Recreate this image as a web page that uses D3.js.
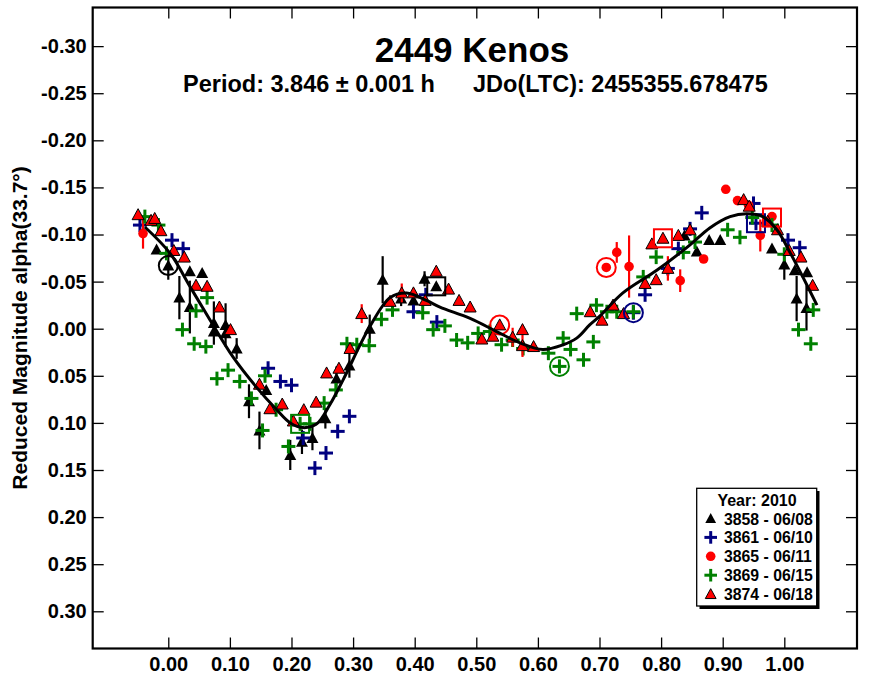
<!DOCTYPE html>
<html><head><meta charset="utf-8">
<script src="https://cdn.jsdelivr.net/npm/d3@7"></script>
<style>
html,body{margin:0;padding:0;background:#fff;}
svg{display:block;font-family:"Liberation Sans",Arial,sans-serif;}
</style></head>
<body>
<svg id="chart" width="871" height="679"></svg>
<script>
// ---------------- DATA ----------------
const titleText = "2449 Kenos";
const periodText = "Period: 3.846 \u00B1 0.001 h";
const epochText = "JDo(LTC): 2455355.678475";
const yAxisTitle = "Reduced Magnitude alpha(33.7\u00B0)";
const xTicks = [0.0,0.1,0.2,0.3,0.4,0.5,0.6,0.7,0.8,0.9,1.0];
const yTicks = [-0.30,-0.25,-0.20,-0.15,-0.10,-0.05,0.00,0.05,0.10,0.15,0.20,0.25,0.30];
const legendTitle = "Year: 2010";
const sessionLabels = ["3858 - 06/08","3861 - 06/10","3865 - 06/11","3869 - 06/15","3874 - 06/18"];

// [phase, reduced mag, error]
const s3858 = [
 [-0.019,-0.084,0],[0.000,-0.067,0.015],[0.018,-0.033,0.023],[0.035,-0.061,0],[0.055,-0.059,0],
 [0.035,-0.023,0.028],[0.074,-0.006,0.023],[0.093,-0.004,0.023],[0.074,0.003,0],[0.093,0.005,0],
 [0.111,0.021,0.011],[0.131,0.077,0.018],[0.148,0.108,0.020],[0.159,0.065,0],[0.198,0.134,0.016],
 [0.217,0.120,0.013],[0.234,0.116,0.013],[0.255,0.095,0.011],[0.273,0.053,0.013],[0.294,0.039,0.013],
 [0.327,0.000,0.015],[0.348,-0.052,0.025],[0.378,-0.032,0.008],[0.398,-0.030,0.006],[0.416,-0.053,0.008],
 [0.435,-0.045,0],[0.838,-0.099,0],[0.858,-0.082,0],[0.878,-0.094,0],[0.896,-0.094,0],
 [0.980,-0.085,0],[1.000,-0.068,0.016],[1.017,-0.062,0],[1.037,-0.060,0],[1.020,-0.032,0.024],[1.036,-0.022,0.024]
];
const s3861 = [
 [-0.046,-0.110,0],[0.006,-0.094,0],[0.024,-0.085,0],[0.162,0.042,0],[0.182,0.056,0],[0.200,0.060,0],
 [0.219,0.116,0],[0.238,0.148,0],[0.256,0.132,0],[0.275,0.109,0],[0.294,0.093,0],[0.398,-0.018,0],
 [0.418,-0.036,0],[0.436,-0.007,0],[0.755,-0.017,0],[0.774,-0.036,0],[0.811,-0.064,0],[0.828,-0.085,0],
 [0.847,-0.106,0],[0.866,-0.123,0],[0.950,-0.133,0],[0.954,-0.112,0],[1.006,-0.094,0],[1.025,-0.086,0]
];
const s3865 = [
 [-0.041,-0.101,0.016],[0.711,-0.065,0.004],[0.728,-0.081,0.011],[0.748,-0.066,0.033],[0.831,-0.051,0.012],
 [0.869,-0.074,0.004],[0.905,-0.148,0],[0.924,-0.136,0],[0.942,-0.131,0],[0.961,-0.099,0.017],[0.980,-0.119,0]
];
const s3869 = [
 [-0.038,-0.119,0],[-0.016,-0.110,0],[-0.003,-0.080,0],[0.023,0.001,0],[0.045,-0.019,0],[0.063,-0.033,0],
 [0.042,0.016,0],[0.061,0.019,0],[0.079,0.053,0],[0.097,0.044,0],[0.116,0.056,0],[0.135,0.074,0],
 [0.153,0.108,0],[0.157,0.050,0],[0.175,0.086,0],[0.195,0.125,0],[0.214,0.101,0],[0.230,0.101,0],
 [0.253,0.079,0],[0.272,0.065,0],[0.290,0.016,0],[0.306,0.017,0],[0.326,0.018,0],[0.346,-0.010,0],
 [0.364,-0.020,0],[0.413,-0.017,0],[0.430,0.001,0],[0.449,-0.003,0],[0.468,0.012,0],[0.486,0.015,0],
 [0.503,0.005,0],[0.522,0.003,0],[0.541,0.017,0],[0.559,0.012,0],[0.576,0.021,0],[0.617,0.026,0],
 [0.635,0.040,0],[0.641,0.010,0],[0.653,0.022,0],[0.663,-0.016,0],[0.674,0.033,0],[0.690,0.014,0],
 [0.695,-0.025,0],[0.712,-0.018,0],[0.728,-0.018,0],[0.755,-0.018,0],[0.771,-0.055,0],[0.792,-0.076,0],
 [0.836,-0.081,0],[0.855,-0.092,0],[0.908,-0.105,0],[0.928,-0.097,0],[0.948,-0.118,0],[0.980,-0.110,0],
 [1.000,-0.079,0],[1.023,0.001,0],[1.043,0.016,0],[1.047,-0.020,0]
];
const s3874 = [
 [-0.049,-0.121,0],[-0.028,-0.115,0],[-0.022,-0.117,0],[-0.012,-0.104,0],[0.009,-0.083,0],[0.026,-0.076,0],
 [0.045,-0.046,0],[0.063,-0.045,0],[0.083,-0.023,0],[0.101,0.001,0],[0.148,0.059,0],[0.165,0.085,0],
 [0.185,0.080,0],[0.203,0.098,0],[0.220,0.086,0],[0.240,0.078,0],[0.257,0.047,0],[0.277,0.042,0],
 [0.295,0.021,0],[0.314,-0.016,0.010],[0.360,-0.029,0],[0.379,-0.038,0.010],[0.398,-0.038,0],[0.417,-0.030,0],
 [0.435,-0.061,0],[0.455,-0.042,0],[0.472,-0.030,0],[0.490,-0.023,0],[0.509,0.011,0],[0.527,0.008,0],
 [0.538,-0.004,0],[0.559,0.009,0.010],[0.575,0.001,0],[0.575,0.018,0.012],[0.593,0.019,0],[0.685,-0.018,0],
 [0.704,-0.009,0],[0.722,-0.025,0],[0.739,-0.016,0],[0.774,-0.048,0],[0.792,-0.052,0],[0.785,-0.090,0],
 [0.803,-0.096,0],[0.811,-0.064,0.013],[0.828,-0.099,0],[0.847,-0.105,0],[0.934,-0.137,0],[0.943,-0.130,0],
 [0.973,-0.114,0],[0.989,-0.105,0],[1.008,-0.083,0],[1.027,-0.076,0],[1.046,-0.046,0]
];
// highlighted points: [phase, mag, session index, shape]
const highlights = [
 [0.000,-0.067,0,"circle"],[0.435,-0.045,0,"square"],
 [0.755,-0.017,1,"circle"],[0.954,-0.112,1,"square"],
 [0.711,-0.065,2,"circle"],[0.980,-0.118,2,"square"],
 [0.635,0.040,3,"circle"],[0.214,0.101,3,"square"],
 [0.538,-0.004,4,"circle"],[0.803,-0.096,4,"square"]
];
// Fourier fit curve
const fitPhase = [-0.038,0.003,0.035,0.068,0.105,0.143,0.176,0.198,0.219,0.241,0.262,0.284,0.327,0.360,0.387,0.419,0.441,0.490,0.533,0.571,0.608,0.641,0.663,0.684,0.700,0.738,0.793,0.847,0.879,0.912,0.939,0.965,0.988,1.010,1.030,1.053];
const fitMag   = [-0.108,-0.080,-0.045,-0.009,0.030,0.062,0.086,0.100,0.105,0.101,0.081,0.054,-0.002,-0.033,-0.038,-0.030,-0.023,-0.011,0.003,0.015,0.022,0.017,0.010,-0.004,-0.013,-0.038,-0.062,-0.089,-0.107,-0.119,-0.122,-0.119,-0.105,-0.080,-0.055,-0.025];

// ---------------- DRAW ----------------
const svg = d3.select("#chart");
const L=92.7, R=857, T=7.5, B=648.5;
const x = d3.scaleLinear().domain([-0.1227,1.118]).range([L,R]);
const y = d3.scaleLinear().domain([-0.341,0.3395]).range([T,B]);

const sessionColors = ["#000000","#000080","#ff0000","#008000","#ff0000"];
const sessionShapes = ["tri","plus","dot","plus","triOut"];
const sessions = [s3858,s3861,s3865,s3869,s3874];

function drawMarker(g, shape, color, cx, cy, scale){
  scale = scale||1;
  if(shape==="tri"||shape==="triOut"){
    const w=6*scale, h=11*scale;
    g.append("path").attr("d",`M${cx},${cy-h*0.55}L${cx+w},${cy+h*0.45}L${cx-w},${cy+h*0.45}Z`)
     .attr("fill",color).attr("stroke",shape==="triOut"?"#000":"none").attr("stroke-width",1);
  } else if(shape==="plus"){
    const a=7*scale;
    g.append("line").attr("x1",cx-a).attr("x2",cx+a).attr("y1",cy).attr("y2",cy).attr("stroke",color).attr("stroke-width",3);
    g.append("line").attr("x1",cx).attr("x2",cx).attr("y1",cy-a).attr("y2",cy+a).attr("stroke",color).attr("stroke-width",3);
  } else if(shape==="dot"){
    g.append("circle").attr("cx",cx).attr("cy",cy).attr("r",4.8*scale).attr("fill",color);
  }
}

// axes (ticks inward on all four sides)
const fmt = d => d.toFixed(2);
const yAxisL = d3.axisLeft(y).tickValues(yTicks).tickFormat(fmt).tickSize(-11).tickPadding(6);
const yAxisR = d3.axisRight(y).tickValues(yTicks).tickFormat("").tickSize(-11);
const xAxisB = d3.axisBottom(x).tickValues(xTicks).tickFormat(fmt).tickSize(-11).tickPadding(8);
const xAxisT = d3.axisTop(x).tickValues(xTicks).tickFormat("").tickSize(-11);

function styleAxis(g){
  g.select(".domain").remove();
  g.selectAll(".tick line").attr("stroke","#000").attr("stroke-width",1.3);
  g.selectAll(".tick text").attr("fill","#000").style("font-size","20px").style("font-weight","bold")
    .style("font-family","'Liberation Sans',Arial,sans-serif");
}
svg.append("g").attr("transform",`translate(${L},0)`).call(yAxisL).call(styleAxis);
svg.append("g").attr("transform",`translate(${R},0)`).call(yAxisR).call(styleAxis);
svg.append("g").attr("transform",`translate(0,${B})`).call(xAxisB).call(styleAxis);
svg.append("g").attr("transform",`translate(0,${T})`).call(xAxisT).call(styleAxis);

// data
const plot = svg.append("g");
sessions.forEach((data,i)=>{
  const g = plot.append("g");
  const ec = i===0?"#000":sessionColors[i];
  data.forEach(d=>{
    if(d[2]>0){
      g.append("line").attr("x1",x(d[0])).attr("x2",x(d[0]))
       .attr("y1",y(d[1]-d[2])).attr("y2",y(d[1]+d[2]))
       .attr("stroke",i===4?"#ff0000":ec).attr("stroke-width",2.2);
    }
  });
  data.forEach(d=>drawMarker(g,sessionShapes[i],sessionColors[i],x(d[0]),y(d[1])));
});

// highlight shapes
highlights.forEach(h=>{
  const cx=x(h[0]), cy=y(h[1]), c=sessionColors[h[2]];
  if(h[3]==="circle"){
    plot.append("circle").attr("cx",cx).attr("cy",cy).attr("r",9.5).attr("fill","none").attr("stroke",c).attr("stroke-width",2);
  } else {
    plot.append("rect").attr("x",cx-9).attr("y",cy-9).attr("width",18).attr("height",18).attr("fill","none").attr("stroke",c).attr("stroke-width",2);
  }
});

// fit curve
const fitData = fitPhase.map((p,i)=>[p,fitMag[i]]);
plot.append("path").datum(fitData)
  .attr("d",d3.line().x(d=>x(d[0])).y(d=>y(d[1])).curve(d3.curveCatmullRom.alpha(0.5)))
  .attr("fill","none").attr("stroke","#000").attr("stroke-width",3);

// frame
svg.append("rect").attr("x",L).attr("y",T).attr("width",R-L).attr("height",B-T)
  .attr("fill","none").attr("stroke","#000").attr("stroke-width",2.2);

// titles
svg.append("text").attr("x",472).attr("y",62).attr("text-anchor","middle")
  .style("font-size","35px").style("font-weight","bold").text(titleText);
svg.append("text").attr("x",183).attr("y",92)
  .style("font-size","23.5px").style("font-weight","bold").text(periodText);
svg.append("text").attr("x",473).attr("y",92)
  .style("font-size","23.5px").style("font-weight","bold").text(epochText);
svg.append("text").attr("transform","translate(27,328) rotate(-90)").attr("text-anchor","middle")
  .style("font-size","21px").style("font-weight","bold").text(yAxisTitle);

// legend
const lg = svg.append("g");
lg.append("rect").attr("x",699.5).attr("y",491).attr("width",120).attr("height",118).attr("fill","#000");
lg.append("rect").attr("x",696.7).attr("y",488.3).attr("width",120).attr("height",117.7)
  .attr("fill","#fff").attr("stroke","#000").attr("stroke-width",1.3);
lg.append("text").attr("x",757).attr("y",506).attr("text-anchor","middle")
  .style("font-size","16px").style("font-weight","bold").text(legendTitle);
sessionLabels.forEach((lab,i)=>{
  const cy = 518.5 + i*18.9;
  drawMarker(lg,sessionShapes[i],sessionColors[i],710.7,cy,i===2?1.0:0.9);
  lg.append("text").attr("x",724).attr("y",cy+6).style("font-size","15.8px").style("font-weight","bold").text(lab);
});
</script>
</body></html>
